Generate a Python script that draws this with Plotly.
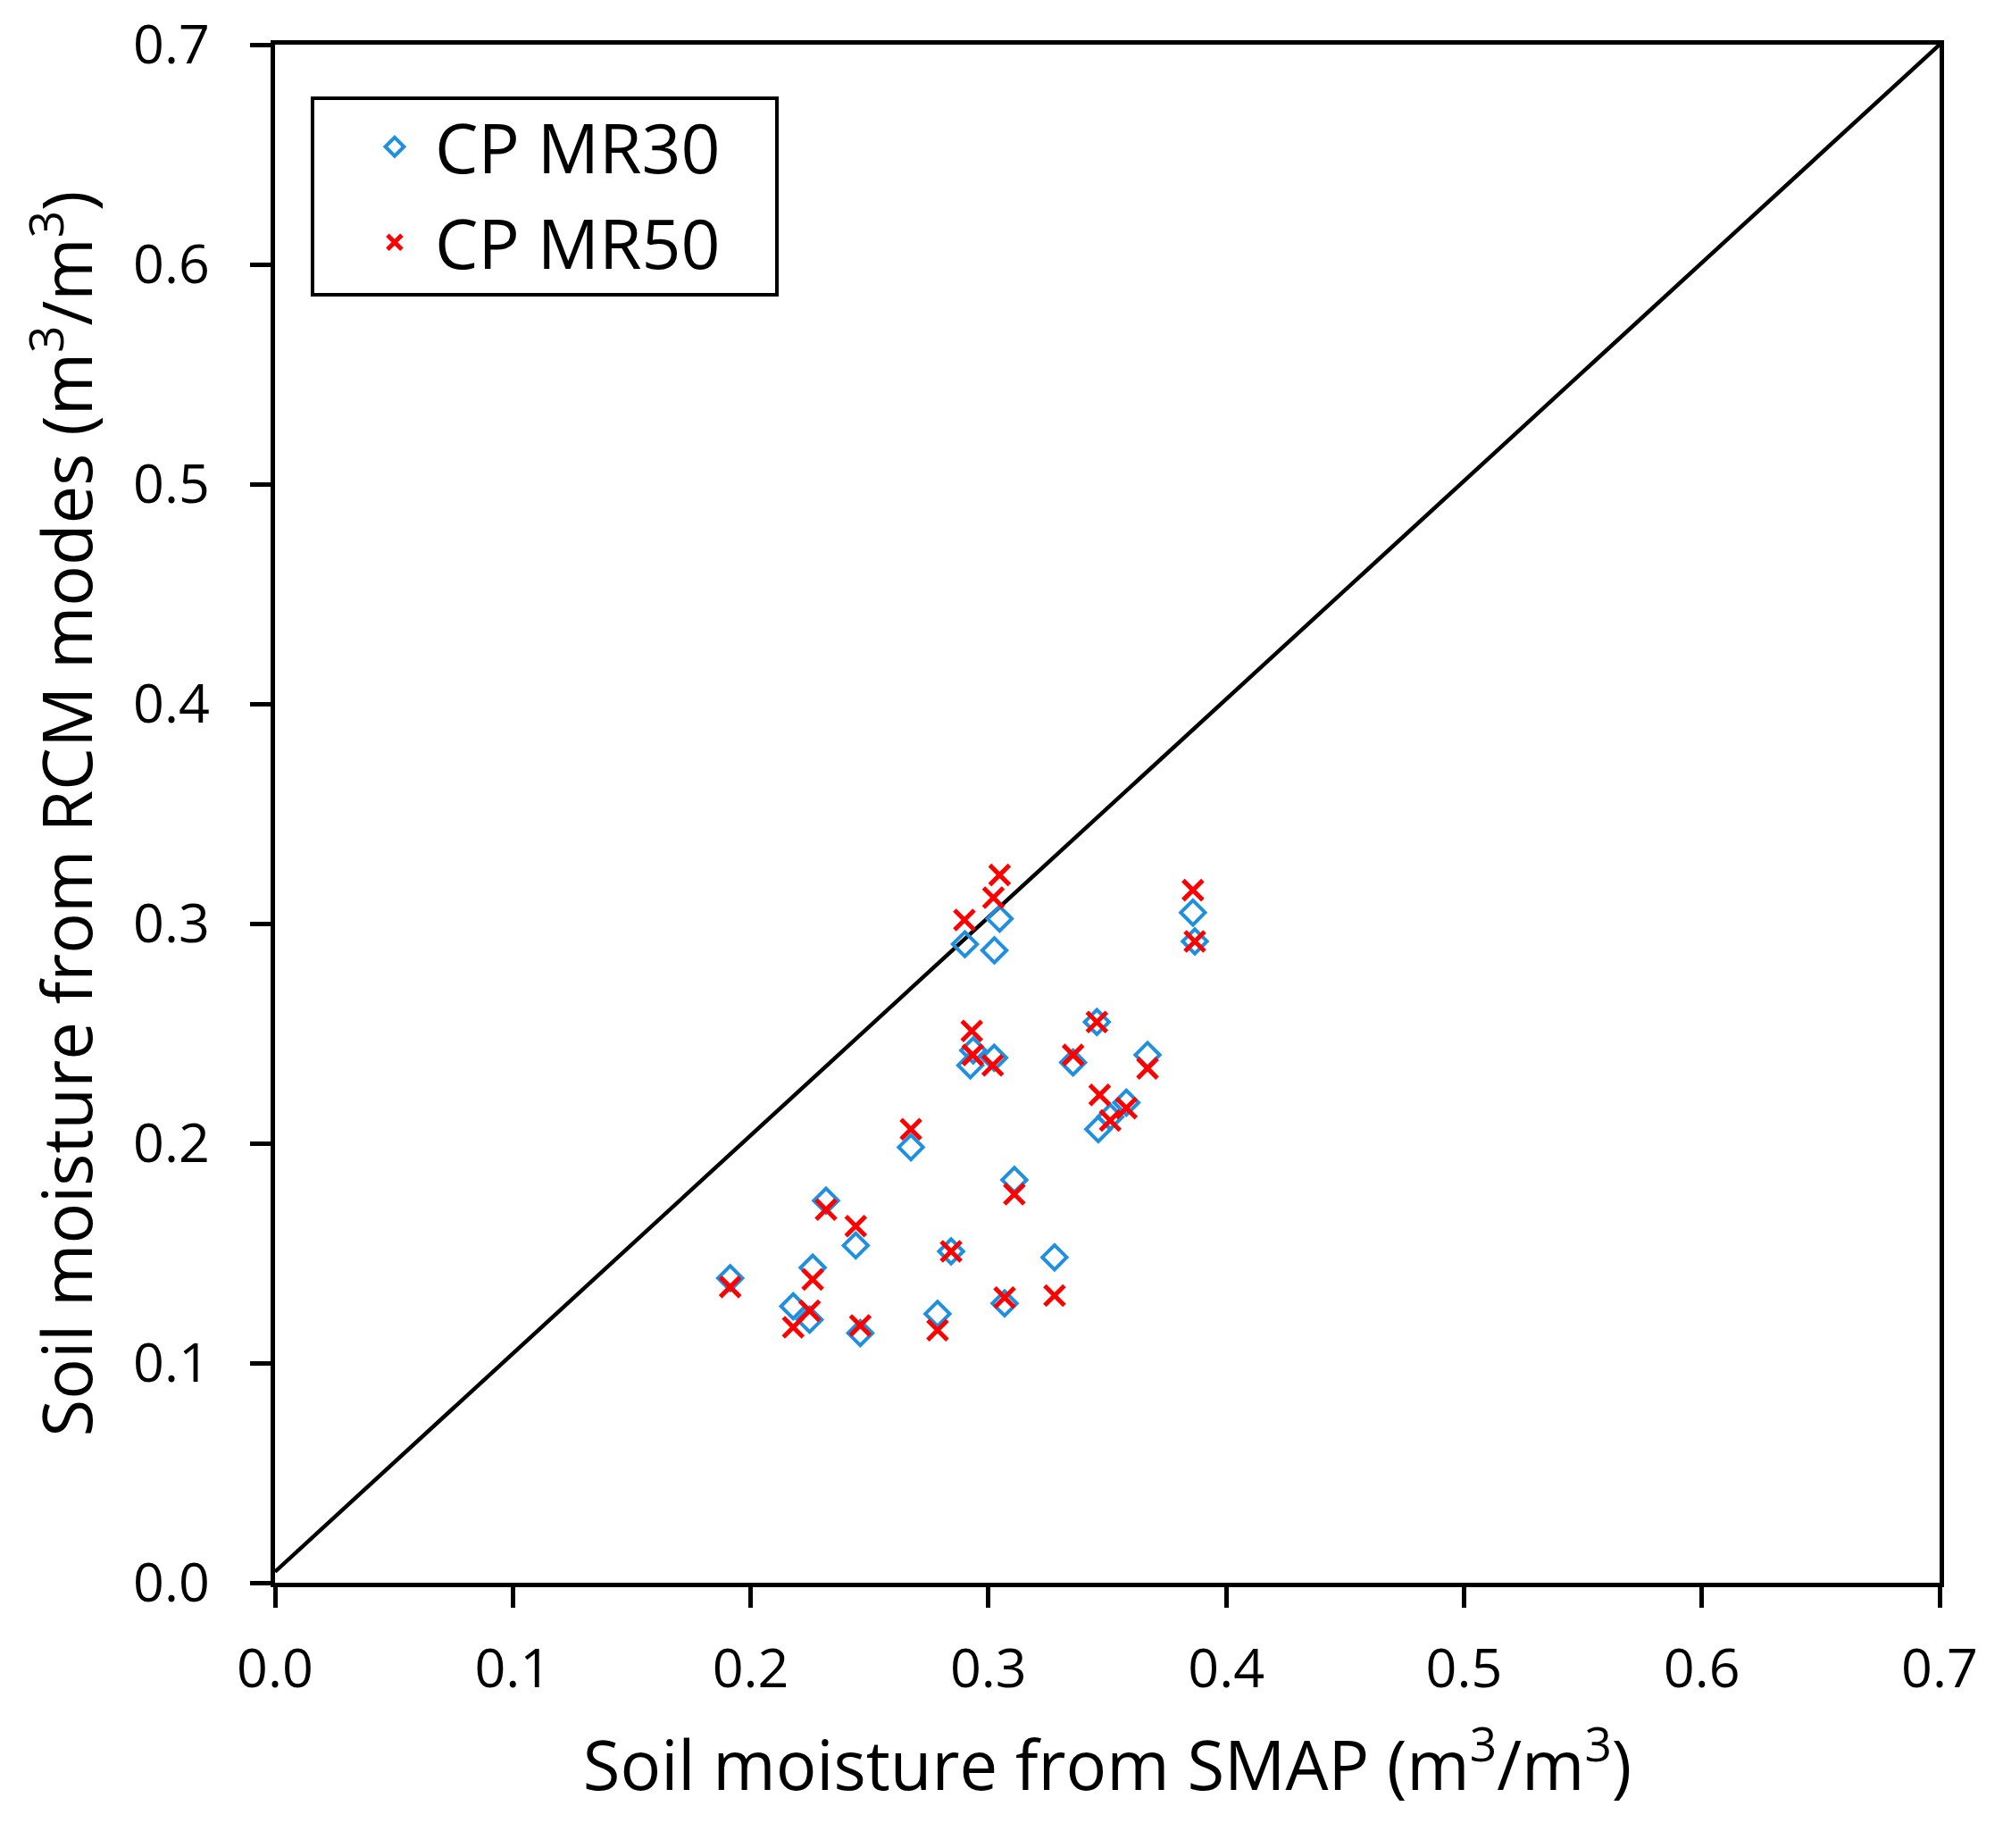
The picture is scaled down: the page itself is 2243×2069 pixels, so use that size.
import plotly.graph_objects as go

# SMAP soil moisture (x) and RCM-modelled soil moisture (y)
mr30_smap = [0.1914, 0.2179, 0.2248, 0.2261, 0.2317, 0.2442, 0.2461, 0.2674, 0.2786,
             0.2843, 0.2901, 0.2936, 0.2924, 0.3024, 0.3025, 0.3047, 0.3068, 0.3109,
             0.3278, 0.3356, 0.3456, 0.3462, 0.3512, 0.3580, 0.3669, 0.3860, 0.3868]
mr30_rcm = [0.1386, 0.1258, 0.1197, 0.1434, 0.1739, 0.1535, 0.1136, 0.1982, 0.1224,
            0.1508, 0.2906, 0.2423, 0.2355, 0.2389, 0.2878, 0.3022, 0.1271, 0.1833,
            0.1481, 0.2368, 0.2552, 0.2064, 0.2120, 0.2185, 0.2402, 0.3050, 0.2919]

mr50_smap = [0.1914, 0.2179, 0.2248, 0.2261, 0.2317, 0.2442, 0.2461, 0.2674, 0.2786,
             0.2843, 0.2899, 0.2930, 0.2934, 0.3018, 0.3021, 0.3047, 0.3068, 0.3109,
             0.3278, 0.3356, 0.3456, 0.3468, 0.3512, 0.3580, 0.3669, 0.3860, 0.3868]
mr50_rcm = [0.1346, 0.1163, 0.1238, 0.1380, 0.1698, 0.1623, 0.1171, 0.2064, 0.1149,
            0.1508, 0.3016, 0.2511, 0.2402, 0.2355, 0.3118, 0.3221, 0.1298, 0.1768,
            0.1307, 0.2402, 0.2552, 0.2220, 0.2104, 0.2160, 0.2341, 0.3152, 0.2919]

line_x = [0.0, 0.7]
line_y = [0.005, 0.7]

tick_vals = [0.0, 0.1, 0.2, 0.3, 0.4, 0.5, 0.6, 0.7]
tick_text = ["0.0", "0.1", "0.2", "0.3", "0.4", "0.5", "0.6", "0.7"]

FONT = "Open Sans"
BLUE = "#1f8fe0"
RED = "#ff0000"

fig = go.Figure()
fig.add_trace(go.Scatter(x=line_x, y=line_y, mode="lines",
                         line=dict(color="black", width=4.5), showlegend=False,
                         hoverinfo="skip"))
fig.add_trace(go.Scatter(x=mr30_smap, y=mr30_rcm, mode="markers", name="CP MR30",
                         legendgroup="a",
                         marker=dict(symbol="diamond-open", size=21, color=BLUE,
                                     line=dict(color=BLUE, width=4))))
fig.add_trace(go.Scatter(x=mr50_smap, y=mr50_rcm, mode="markers", name="CP MR50",
                         legendgroup="b",
                         marker=dict(symbol="x-thin-open", size=22, color=RED,
                                     line=dict(color=RED, width=5))))

axis_common = dict(
    range=[0, 0.7], tickvals=tick_vals, ticktext=tick_text,
    showgrid=False, zeroline=False, showline=True, linecolor="black", linewidth=5,
    mirror=True, ticks="outside", ticklen=23, tickwidth=5, tickcolor="black",
    ticklabeloverflow="allow", automargin=False,
    tickfont=dict(family=FONT, size=61, color="black"),
)

# page body has an 8px margin, so the figure is shrunk by 16px and offsets reduced by 8px
fig.update_layout(
    width=2227, height=2053,
    margin=dict(l=300, r=63, t=42, b=289, autoexpand=False),
    paper_bgcolor="white", plot_bgcolor="white",
    font=dict(family=FONT, color="black"),
    xaxis=dict(**axis_common, ticklabelstandoff=16,
               title=dict(text="Soil moisture from SMAP (m<sup>3</sup>/m<sup>3</sup>)",
                          font=dict(family=FONT, size=76, color="black"), standoff=46)),
    yaxis=dict(**axis_common, ticklabelstandoff=33,
               title=dict(text="Soil moisture from RCM modes (m<sup>3</sup>/m<sup>3</sup>)",
                          font=dict(family=FONT, size=76, color="black"), standoff=22)),
    legend=dict(x=0.0477, y=0.9665, xanchor="left", yanchor="top",
                borderwidth=0, bgcolor="rgba(0,0,0,0)",
                font=dict(family=FONT, size=77, color="black"),
                itemwidth=80, tracegroupgap=4),
    shapes=[dict(type="rect", xref="paper", yref="paper",
                 x0=0.0225, x1=0.3015, y0=0.8374, y1=0.9652,
                 line=dict(color="black", width=4), fillcolor="white", layer="above")],
    showlegend=True,
)

fig.write_html("out.html")
